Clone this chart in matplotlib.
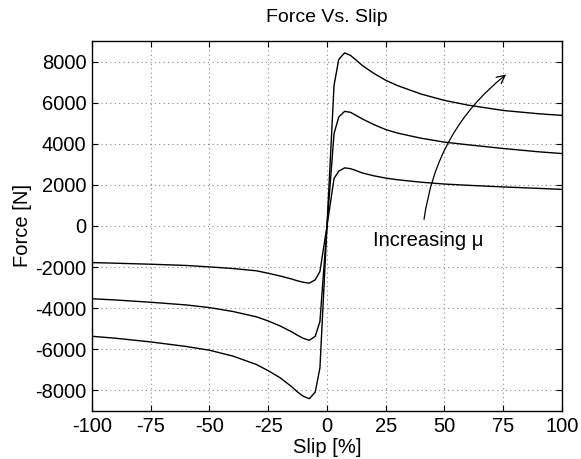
import matplotlib
matplotlib.use("Agg")
import matplotlib.pyplot as plt

# -------------------------
# Data (slip in %, force in N)
# -------------------------
slip = [-100, -90, -75, -60, -50, -40, -30, -25, -20, -15, -12.5, -10, -7.5, -5, -3,
        0,
        3, 5, 7.5, 10, 12.5, 15, 20, 25, 30, 40, 50, 60, 75, 90, 100]

force_high = [-5366, -5460, -5640, -5860, -6044, -6330, -6740, -7040, -7380, -7820,
              -8080, -8290, -8400, -8080, -6900,
              0,
              6840, 8100, 8420, 8300, 8060, 7810, 7420, 7090, 6830, 6420, 6110,
              5880, 5620, 5460, 5380]

force_mid = [-3540, -3600, -3710, -3840, -3970, -4160, -4420, -4620, -4860, -5150,
             -5320, -5470, -5560, -5366, -4650,
             0,
             4494, 5300, 5576, 5530, 5370, 5210, 4930, 4690, 4520, 4270, 4080,
             3950, 3770, 3610, 3524]

force_low = [-1780, -1810, -1860, -1920, -1990, -2070, -2180, -2300, -2430, -2580,
             -2670, -2740, -2780, -2618, -2214,
             0,
             2311, 2667, 2827, 2790, 2690, 2580, 2440, 2330, 2250, 2130, 2040,
             1980, 1900, 1830, 1780]

xticks = [-100, -75, -50, -25, 0, 25, 50, 75, 100]
yticks = [-8000, -6000, -4000, -2000, 0, 2000, 4000, 6000, 8000]

plt.rcParams["font.family"] = ["Liberation Sans", "DejaVu Sans"]
plt.rcParams["font.size"] = 14.5

fig = plt.figure(figsize=(5.81, 4.59), dpi=100)
ax = fig.add_axes([0.1583, 0.1046, 0.809, 0.8061])

for f in (force_high, force_mid, force_low):
    ax.plot(slip, f, color="black", linewidth=1.0)

ax.set_xlim(-100, 100)
ax.set_ylim(-9000, 9000)
ax.set_xticks(xticks)
ax.set_yticks(yticks)
ax.set_xticklabels([str(t) for t in xticks])
ax.set_yticklabels([str(t) for t in yticks])
ax.grid(True, linestyle=(0, (1, 3)), color="#888888", linewidth=0.8)
ax.tick_params(direction="in", top=True, right=True, length=4, pad=4)
for s in ax.spines.values():
    s.set_linewidth(1.0)

ax.set_xlabel("Slip [%]", labelpad=2)
ax.set_ylabel("Force [N]", labelpad=2)
ax.set_title("Force Vs. Slip", fontsize=14, pad=13.5)

# annotation arrow
ax.annotate("", xy=(76.2, 7370), xytext=(41.3, 325),
            arrowprops=dict(arrowstyle="->", color="black", lw=0.9,
                            connectionstyle="arc3,rad=-0.2", shrinkA=0, shrinkB=0))
ax.text(19.6, -727, "Increasing \u03bc", ha="left", va="center")

fig.savefig("out.png", dpi=100)
